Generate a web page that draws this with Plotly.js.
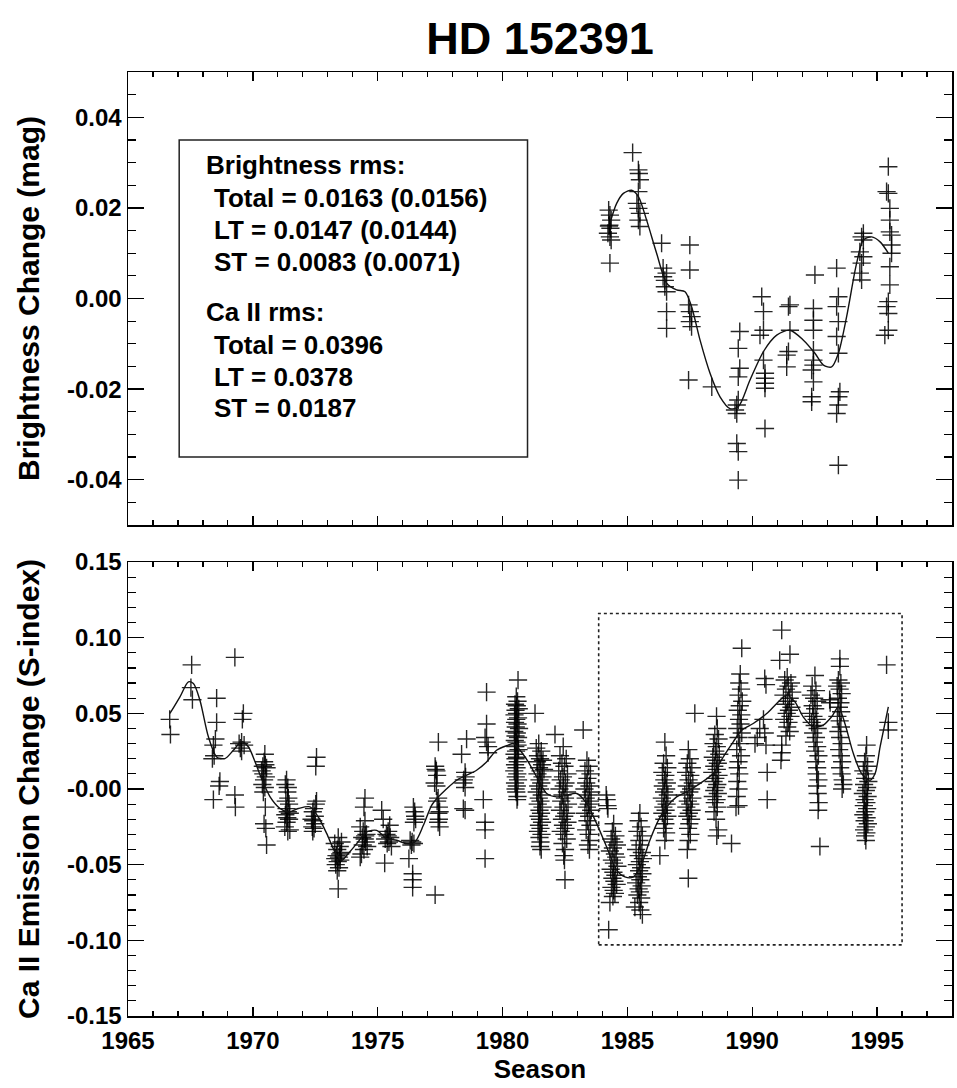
<!DOCTYPE html>
<html>
<head>
<meta charset="utf-8">
<script src="https://cdn.plot.ly/plotly-3.0.1.min.js"></script>
<style>html,body{margin:0;padding:0;background:#fff;}#chart{width:957px;height:1088px;}</style>
</head>
<body>
<div id="chart"></div>
<script>
// ---------- Brightness change (top panel), [season, mag] ----------
const bri1984 = [[1984.25,0.0195],[1984.30,0.0184],[1984.35,0.0173],[1984.28,0.0162],[1984.32,0.0155],[1984.22,0.0144],[1984.30,0.0136],[1984.35,0.0129],[1984.30,0.0078],[1984.26,0.0160]];
const bri1985 = [[1985.21,0.0322],[1985.44,0.0284],[1985.46,0.0276],[1985.50,0.0262],[1985.44,0.0236],[1985.38,0.0210],[1985.44,0.0199],[1985.50,0.0188],[1985.44,0.0173],[1985.50,0.0159]];
const bri1986 = [[1986.37,0.0122],[1986.43,0.0067],[1986.57,0.0056],[1986.43,0.0048],[1986.50,0.0026],[1986.57,0.0015],[1986.57,-0.0029],[1986.57,-0.0066],[1986.50,0.0040]];
const bri1987 = [[1987.50,0.0118],[1987.50,0.0063],[1987.45,-0.0014],[1987.50,-0.0029],[1987.57,-0.0040],[1987.50,-0.0051],[1987.57,-0.0062],[1987.45,-0.0180],[1988.38,-0.0195]];
const bri1989 = [[1989.50,-0.0073],[1989.44,-0.0110],[1989.50,-0.0154],[1989.44,-0.0173],[1989.44,-0.0224],[1989.38,-0.0235],[1989.31,-0.0246],[1989.38,-0.0254],[1989.38,-0.0320],[1989.44,-0.0338],[1989.44,-0.0401]];
const bri1990 = [[1990.38,0.0004],[1990.45,-0.0029],[1990.45,-0.0070],[1990.31,-0.0081],[1990.45,-0.0136],[1990.51,-0.0165],[1990.51,-0.0176],[1990.51,-0.0187],[1990.51,-0.0198],[1990.51,-0.0287]];
const bri1991 = [[1991.51,-0.0014],[1991.45,-0.0018],[1991.51,-0.0070],[1991.45,-0.0117],[1991.38,-0.0125],[1991.38,-0.0151]];
const bri1992 = [[1992.51,0.0052],[1992.45,-0.0022],[1992.45,-0.0048],[1992.45,-0.0070],[1992.45,-0.0114],[1992.45,-0.0136],[1992.45,-0.0147],[1992.38,-0.0158],[1992.45,-0.0184],[1992.38,-0.0217],[1992.38,-0.0228]];
const bri1993 = [[1993.38,0.0067],[1993.45,0.0004],[1993.38,-0.0018],[1993.45,-0.0051],[1993.38,-0.0084],[1993.45,-0.0121],[1993.51,-0.0206],[1993.45,-0.0217],[1993.45,-0.0235],[1993.38,-0.0254],[1993.45,-0.0368]];
const bri1994 = [[1994.45,0.0144],[1994.38,0.0136],[1994.45,0.0129],[1994.31,0.0103],[1994.45,0.0092],[1994.38,0.0078],[1994.31,0.0056],[1994.38,0.0041]];
const bri1995 = [[1995.45,0.0291],[1995.38,0.0236],[1995.45,0.0232],[1995.51,0.0199],[1995.51,0.0173],[1995.51,0.0147],[1995.58,0.0140],[1995.58,0.0118],[1995.58,0.0100],[1995.51,0.0070],[1995.51,0.0030],[1995.45,-0.0007],[1995.38,-0.0018],[1995.45,-0.0033],[1995.45,-0.0070],[1995.31,-0.0081]];

// smooth long-term fit of brightness
const briFitYear = [1984.30,1984.57,1984.84,1985.17,1985.44,1985.77,1986.17,1986.57,1986.97,1987.31,1987.57,1987.91,1988.31,1988.71,1989.11,1989.44,1989.91,1990.45,1990.98,1991.51,1992.05,1992.51,1992.85,1993.18,1993.45,1993.78,1994.18,1994.45,1994.78,1995.12,1995.45];
const briFitMag  = [0.0166,0.0210,0.0232,0.0239,0.0225,0.0173,0.0100,0.0034,0.0019,0.0015,-0.0018,-0.0092,-0.0165,-0.0217,-0.0243,-0.0239,-0.0180,-0.0117,-0.0081,-0.0070,-0.0092,-0.0121,-0.0147,-0.0151,-0.0121,-0.0040,0.0078,0.0129,0.0136,0.0125,0.0100];

// ---------- Ca II emission change (bottom panel), [season, S-index] ----------
const ca1966 = [[1966.67,0.046],[1966.70,0.036]];
const ca1967 = [[1967.55,0.082],[1967.52,0.067],[1967.58,0.059]];
const ca1968 = [[1968.55,0.060],[1968.55,0.044],[1968.50,0.033],[1968.42,0.029],[1968.45,0.022],[1968.38,0.020],[1968.68,0.005],[1968.65,0.002],[1968.42,-0.007]];
const ca1969 = [[1969.28,0.087],[1969.62,0.050],[1969.58,0.046],[1969.55,0.031],[1969.65,0.029],[1969.50,0.027],[1969.45,0.030],[1969.55,0.025],[1969.28,-0.004],[1969.30,-0.012]];
const ca1970 = [[1970.48,0.023],[1970.45,0.018],[1970.50,0.016],[1970.40,0.015],[1970.55,0.014],[1970.35,0.012],[1970.42,0.010],[1970.52,0.008],[1970.45,0.006],[1970.38,0.003],[1970.48,0.001],[1970.42,-0.002],[1970.50,-0.012],[1970.45,-0.023],[1970.52,-0.026],[1970.55,-0.037]];
const ca1971 = [[1971.35,0.006],[1971.30,0.003],[1971.40,0.001],[1971.38,-0.002],[1971.42,-0.006],[1971.32,-0.008],[1971.45,-0.010],[1971.35,-0.013],[1971.40,-0.015],[1971.48,-0.016],[1971.30,-0.017],[1971.38,-0.019],[1971.45,-0.020],[1971.35,-0.022],[1971.28,-0.025],[1971.48,-0.027],[1971.40,-0.028]];
const ca1972 = [[1972.55,0.021],[1972.52,0.015],[1972.55,-0.008],[1972.52,-0.010],[1972.45,-0.013],[1972.40,-0.015],[1972.48,-0.018],[1972.35,-0.020],[1972.42,-0.021],[1972.50,-0.023],[1972.38,-0.025],[1972.45,-0.026],[1972.40,-0.028]];
const ca1973 = [[1973.42,-0.032],[1973.55,-0.035],[1973.28,-0.036],[1973.48,-0.038],[1973.38,-0.040],[1973.55,-0.042],[1973.35,-0.044],[1973.45,-0.045],[1973.50,-0.047],[1973.40,-0.048],[1973.32,-0.050],[1973.45,-0.052],[1973.38,-0.054],[1973.42,-0.066],[1973.50,-0.043],[1973.30,-0.046]];
const ca1974 = [[1974.49,-0.006],[1974.45,-0.012],[1974.49,-0.021],[1974.30,-0.025],[1974.42,-0.028],[1974.55,-0.030],[1974.38,-0.032],[1974.48,-0.033],[1974.52,-0.035],[1974.40,-0.037],[1974.58,-0.038],[1974.45,-0.040],[1974.35,-0.043],[1974.30,-0.045],[1974.50,-0.031]];
const ca1975 = [[1975.16,-0.014],[1975.22,-0.020],[1975.48,-0.024],[1975.42,-0.028],[1975.35,-0.030],[1975.50,-0.032],[1975.30,-0.033],[1975.45,-0.035],[1975.38,-0.036],[1975.55,-0.038],[1975.28,-0.049],[1975.40,-0.031]];
const ca1976 = [[1976.43,-0.012],[1976.48,-0.015],[1976.50,-0.018],[1976.45,-0.022],[1976.30,-0.034],[1976.38,-0.035],[1976.45,-0.036],[1976.35,-0.037],[1976.25,-0.046],[1976.40,-0.056],[1976.40,-0.060],[1976.40,-0.065],[1976.52,-0.020]];
const ca1977 = [[1977.43,0.031],[1977.30,0.015],[1977.35,0.012],[1977.38,0.009],[1977.28,0.004],[1977.35,0.002],[1977.42,-0.006],[1977.38,-0.008],[1977.45,-0.012],[1977.48,-0.015],[1977.43,-0.016],[1977.45,-0.020],[1977.42,-0.022],[1977.48,-0.025],[1977.30,-0.070],[1977.32,0.013]];
const ca1978 = [[1978.56,0.033],[1978.36,0.023],[1978.50,0.011],[1978.45,0.006],[1978.43,0.004],[1978.50,0.001],[1978.43,-0.013],[1978.50,-0.014],[1978.52,0.008]];
const ca1979 = [[1979.36,0.064],[1979.36,0.043],[1979.30,0.034],[1979.36,0.031],[1979.42,0.028],[1979.42,0.024],[1979.23,-0.007],[1979.30,-0.022],[1979.30,-0.027],[1979.30,-0.046]];
const ca1980 = [[1980.62,0.072],[1980.55,0.061],[1980.60,0.058],[1980.50,0.056],[1980.57,0.055],[1980.65,0.053],[1980.52,0.052],[1980.58,0.050],[1980.48,0.049],[1980.62,0.047],[1980.55,0.046],[1980.50,0.044],[1980.60,0.043],[1980.53,0.041],[1980.66,0.040],[1980.47,0.038],[1980.57,0.037],[1980.52,0.035],[1980.62,0.034],[1980.49,0.032],[1980.56,0.031],[1980.60,0.029],[1980.51,0.028],[1980.64,0.026],[1980.54,0.025],[1980.48,0.023],[1980.58,0.021],[1980.52,0.020],[1980.61,0.018],[1980.50,0.016],[1980.56,0.014],[1980.47,0.012],[1980.59,0.010],[1980.53,0.008],[1980.62,0.006],[1980.50,0.004],[1980.57,0.002],[1980.52,0.000],[1980.55,-0.002],[1980.60,-0.005],[1980.58,-0.007]];
const ca1981 = [[1981.30,0.050],[1981.45,0.030],[1981.35,0.027],[1981.55,0.025],[1981.42,0.022],[1981.50,0.020],[1981.38,0.018],[1981.58,0.016],[1981.46,0.014],[1981.52,0.012],[1981.40,0.010],[1981.60,0.008],[1981.48,0.006],[1981.55,0.004],[1981.43,0.002],[1981.50,0.000],[1981.37,-0.002],[1981.57,-0.004],[1981.45,-0.006],[1981.52,-0.008],[1981.41,-0.010],[1981.60,-0.012],[1981.48,-0.014],[1981.54,-0.016],[1981.44,-0.018],[1981.50,-0.020],[1981.58,-0.022],[1981.46,-0.024],[1981.52,-0.026],[1981.42,-0.028],[1981.56,-0.030],[1981.48,-0.032],[1981.52,-0.035],[1981.50,-0.038],[1981.55,-0.040],[1981.62,0.019],[1981.66,0.013]];
const ca1982 = [[1982.10,0.036],[1982.43,0.028],[1982.30,0.022],[1982.55,0.020],[1982.38,0.017],[1982.48,0.015],[1982.25,0.012],[1982.60,0.010],[1982.42,0.008],[1982.33,0.006],[1982.52,0.004],[1982.45,0.002],[1982.28,0.000],[1982.58,-0.002],[1982.40,-0.004],[1982.50,-0.006],[1982.35,-0.008],[1982.62,-0.010],[1982.44,-0.012],[1982.30,-0.014],[1982.55,-0.016],[1982.47,-0.018],[1982.38,-0.020],[1982.60,-0.022],[1982.42,-0.024],[1982.52,-0.026],[1982.33,-0.028],[1982.48,-0.030],[1982.57,-0.033],[1982.40,-0.036],[1982.50,-0.040],[1982.45,-0.044],[1982.48,-0.047],[1982.50,-0.060]];
const ca1983 = [[1983.23,0.039],[1983.38,0.019],[1983.45,0.015],[1983.30,0.012],[1983.52,0.010],[1983.40,0.007],[1983.35,0.004],[1983.48,0.002],[1983.28,0.000],[1983.55,-0.002],[1983.42,-0.004],[1983.33,-0.006],[1983.50,-0.008],[1983.45,-0.010],[1983.38,-0.012],[1983.55,-0.014],[1983.30,-0.016],[1983.47,-0.018],[1983.40,-0.021],[1983.52,-0.024],[1983.35,-0.027],[1983.45,-0.030],[1983.50,-0.034],[1983.42,-0.037],[1983.48,-0.040]];
const ca1984 = [[1984.15,-0.004],[1984.17,-0.007],[1984.20,-0.011],[1984.22,-0.013],[1984.45,-0.023],[1984.40,-0.028],[1984.52,-0.031],[1984.35,-0.033],[1984.47,-0.035],[1984.58,-0.037],[1984.42,-0.039],[1984.30,-0.041],[1984.50,-0.043],[1984.55,-0.045],[1984.38,-0.047],[1984.46,-0.049],[1984.60,-0.051],[1984.33,-0.053],[1984.44,-0.055],[1984.52,-0.057],[1984.40,-0.059],[1984.48,-0.061],[1984.57,-0.063],[1984.36,-0.065],[1984.45,-0.067],[1984.50,-0.069],[1984.42,-0.071],[1984.30,-0.075],[1984.25,-0.093]];
const ca1985 = [[1985.50,-0.016],[1985.45,-0.021],[1985.55,-0.025],[1985.40,-0.028],[1985.60,-0.031],[1985.48,-0.034],[1985.52,-0.037],[1985.35,-0.040],[1985.58,-0.042],[1985.45,-0.044],[1985.62,-0.046],[1985.50,-0.048],[1985.38,-0.050],[1985.55,-0.052],[1985.47,-0.054],[1985.60,-0.056],[1985.42,-0.058],[1985.52,-0.060],[1985.35,-0.062],[1985.57,-0.064],[1985.45,-0.066],[1985.50,-0.068],[1985.40,-0.070],[1985.55,-0.072],[1985.47,-0.075],[1985.30,-0.078],[1985.52,-0.080],[1985.60,-0.083]];
const ca1986 = [[1986.50,0.031],[1986.55,0.022],[1986.45,0.017],[1986.60,0.014],[1986.40,0.011],[1986.52,0.009],[1986.48,0.006],[1986.58,0.004],[1986.42,0.002],[1986.55,0.000],[1986.47,-0.002],[1986.62,-0.004],[1986.38,-0.006],[1986.50,-0.008],[1986.57,-0.010],[1986.44,-0.012],[1986.53,-0.014],[1986.40,-0.016],[1986.60,-0.018],[1986.48,-0.020],[1986.52,-0.023],[1986.45,-0.026],[1986.55,-0.029],[1986.50,-0.034],[1986.30,-0.044]];
const ca1987 = [[1987.70,0.050],[1987.44,0.026],[1987.50,0.020],[1987.40,0.017],[1987.58,0.014],[1987.35,0.011],[1987.52,0.009],[1987.45,0.006],[1987.62,0.004],[1987.38,0.002],[1987.55,0.000],[1987.48,-0.002],[1987.30,-0.004],[1987.60,-0.006],[1987.42,-0.008],[1987.52,-0.010],[1987.36,-0.012],[1987.57,-0.014],[1987.46,-0.016],[1987.40,-0.018],[1987.55,-0.020],[1987.48,-0.023],[1987.43,-0.026],[1987.52,-0.030],[1987.45,-0.034],[1987.40,-0.040],[1987.44,-0.059]];
const ca1988 = [[1988.57,0.048],[1988.60,0.040],[1988.50,0.036],[1988.65,0.033],[1988.45,0.030],[1988.58,0.028],[1988.52,0.025],[1988.68,0.023],[1988.42,0.021],[1988.55,0.019],[1988.62,0.017],[1988.48,0.015],[1988.58,0.013],[1988.40,0.011],[1988.65,0.009],[1988.52,0.007],[1988.45,0.005],[1988.60,0.003],[1988.55,0.001],[1988.48,-0.001],[1988.62,-0.003],[1988.42,-0.005],[1988.57,-0.007],[1988.50,-0.009],[1988.60,-0.012],[1988.47,-0.015],[1988.55,-0.020],[1988.64,-0.027],[1988.58,-0.031],[1989.17,-0.036]];
const ca1989 = [[1989.58,0.093],[1989.52,0.076],[1989.48,0.070],[1989.55,0.066],[1989.45,0.062],[1989.60,0.058],[1989.50,0.055],[1989.42,0.052],[1989.56,0.049],[1989.47,0.046],[1989.53,0.043],[1989.40,0.040],[1989.58,0.037],[1989.45,0.034],[1989.50,0.030],[1989.38,0.026],[1989.55,0.022],[1989.45,0.018],[1989.42,0.014],[1989.48,0.010],[1989.40,0.005],[1989.45,0.000],[1989.38,-0.005],[1989.45,-0.011],[1989.35,-0.012]];
const ca1990 = [[1990.11,0.030],[1990.30,0.040],[1990.45,0.046],[1990.50,0.073],[1990.55,0.069],[1990.50,0.037],[1990.55,0.029],[1990.60,0.011],[1990.60,-0.007],[1990.20,0.034]];
const ca1991 = [[1991.18,0.105],[1991.10,0.085],[1991.51,0.089],[1991.40,0.074],[1991.30,0.072],[1991.55,0.070],[1991.45,0.068],[1991.35,0.066],[1991.60,0.064],[1991.25,0.062],[1991.50,0.060],[1991.42,0.058],[1991.33,0.056],[1991.57,0.054],[1991.47,0.052],[1991.38,0.050],[1991.53,0.048],[1991.28,0.046],[1991.45,0.044],[1991.40,0.041],[1991.50,0.038],[1991.35,0.035],[1991.18,0.029],[1991.18,0.024],[1991.15,0.019]];
const ca1992 = [[1992.51,0.075],[1992.40,0.068],[1992.55,0.065],[1992.35,0.062],[1992.48,0.060],[1992.60,0.058],[1992.42,0.055],[1992.52,0.053],[1992.30,0.050],[1992.45,0.048],[1992.58,0.046],[1992.38,0.044],[1992.50,0.042],[1992.62,0.040],[1992.44,0.037],[1992.55,0.034],[1992.47,0.031],[1992.60,0.028],[1992.52,0.025],[1992.65,0.022],[1992.55,0.018],[1992.60,0.014],[1992.58,0.010],[1992.65,0.006],[1992.60,0.002],[1992.62,-0.003],[1992.66,-0.009],[1992.64,-0.014],[1992.71,-0.038],[1993.10,0.059],[1993.12,0.057]];
const ca1993 = [[1993.51,0.086],[1993.51,0.081],[1993.45,0.072],[1993.55,0.070],[1993.40,0.068],[1993.50,0.066],[1993.58,0.063],[1993.43,0.060],[1993.53,0.057],[1993.47,0.054],[1993.56,0.051],[1993.41,0.048],[1993.50,0.045],[1993.55,0.041],[1993.45,0.038],[1993.52,0.034],[1993.58,0.030],[1993.48,0.026],[1993.55,0.022],[1993.60,0.018],[1993.52,0.014],[1993.58,0.010],[1993.62,0.006],[1993.65,0.003],[1993.60,0.000]];
const ca1994 = [[1994.58,0.029],[1994.55,0.022],[1994.50,0.018],[1994.62,0.015],[1994.45,0.012],[1994.57,0.010],[1994.52,0.007],[1994.65,0.005],[1994.48,0.003],[1994.60,0.001],[1994.55,-0.001],[1994.43,-0.003],[1994.62,-0.005],[1994.50,-0.007],[1994.57,-0.009],[1994.47,-0.011],[1994.60,-0.013],[1994.53,-0.015],[1994.45,-0.017],[1994.58,-0.019],[1994.50,-0.021],[1994.63,-0.023],[1994.55,-0.025],[1994.48,-0.027],[1994.57,-0.029],[1994.52,-0.031],[1994.55,-0.034]];
const ca1995 = [[1995.38,0.082],[1995.45,0.044],[1995.45,0.039]];

// smooth long-term fit of Ca II
const caFitYear = [1966.68,1967.08,1967.42,1967.62,1967.88,1968.22,1968.55,1968.88,1969.22,1969.55,1969.82,1970.09,1970.35,1970.69,1971.09,1971.42,1971.82,1972.29,1972.62,1972.96,1973.29,1973.56,1973.82,1974.16,1974.56,1974.96,1975.36,1975.76,1976.16,1976.49,1976.83,1977.16,1977.43,1977.70,1978.16,1978.56,1978.96,1979.36,1979.76,1980.23,1980.43,1980.70,1981.03,1981.37,1981.77,1982.17,1982.57,1982.97,1983.37,1983.77,1984.17,1984.57,1984.90,1985.24,1985.57,1985.90,1986.24,1986.57,1986.97,1987.37,1987.90,1988.44,1988.84,1989.24,1989.58,1990.04,1990.58,1990.98,1991.38,1991.71,1992.04,1992.44,1992.84,1993.18,1993.45,1993.71,1994.05,1994.38,1994.72,1994.92,1995.12,1995.45];
const caFitS    = [0.0499,0.0609,0.0708,0.0697,0.0587,0.0345,0.0212,0.0201,0.0256,0.0312,0.0279,0.0179,0.0069,-0.0052,-0.0129,-0.0152,-0.0129,-0.0118,-0.0185,-0.0295,-0.0416,-0.0471,-0.0427,-0.0361,-0.0284,-0.0273,-0.0328,-0.0339,-0.0361,-0.0350,-0.0240,-0.0108,-0.0052,-0.0008,0.0058,0.0091,0.0124,0.0179,0.0256,0.0290,0.0301,0.0256,0.0179,0.0080,-0.0030,-0.0052,-0.0041,-0.0030,-0.0096,-0.0229,-0.0383,-0.0536,-0.0581,-0.0581,-0.0493,-0.0339,-0.0207,-0.0119,-0.0052,-0.0019,0.0036,0.0102,0.0213,0.0312,0.0389,0.0433,0.0499,0.0565,0.0620,0.0576,0.0477,0.0411,0.0422,0.0477,0.0543,0.0433,0.0234,0.0102,0.0058,0.0102,0.0279,0.0543];

// ---------- tick labels and text ----------
const xTickVals = [1965,1970,1975,1980,1985,1990,1995];
const xTickText = ["1965","1970","1975","1980","1985","1990","1995"];
const yTopTickVals = [-0.04,-0.02,0.00,0.02,0.04];
const yTopTickText = ["-0.04","-0.02","0.00","0.02","0.04"];
const yBotTickVals = [-0.15,-0.10,-0.05,0.00,0.05,0.10,0.15];
const yBotTickText = ["-0.15","-0.10","-0.05","-0.00","0.05","0.10","0.15"];
const rmsLines = ["Brightness rms:","Total = 0.0163 (0.0156)","LT = 0.0147 (0.0144)","ST = 0.0083 (0.0071)","Ca II rms:","Total = 0.0396","LT = 0.0378","ST = 0.0187"];

// ---------- build ----------
const briSeasons = [bri1984,bri1985,bri1986,bri1987,bri1989,bri1990,bri1991,bri1992,bri1993,bri1994,bri1995];
const caSeasons = [ca1966,ca1967,ca1968,ca1969,ca1970,ca1971,ca1972,ca1973,ca1974,ca1975,ca1976,ca1977,ca1978,ca1979,ca1980,ca1981,ca1982,ca1983,ca1984,ca1985,ca1986,ca1987,ca1988,ca1989,ca1990,ca1991,ca1992,ca1993,ca1994,ca1995];
const briPts = [].concat(...briSeasons);
const caPts = [].concat(...caSeasons);

const FONT = 'Liberation Sans, Arial, Helvetica, sans-serif';
const markerStyle = {symbol:'cross-thin', size:13, color:'rgba(0,0,0,0.85)', line:{width:1.4, color:'rgba(0,0,0,0.85)'}};

const traces = [
  {type:'scatter', mode:'markers', x:briPts.map(p=>p[0]), y:briPts.map(p=>p[1]), xaxis:'x', yaxis:'y', marker:markerStyle, hoverinfo:'x+y'},
  {type:'scatter', mode:'lines', x:briFitYear, y:briFitMag, xaxis:'x', yaxis:'y', line:{color:'#111', width:1.4, shape:'spline', smoothing:0.8}},
  {type:'scatter', mode:'markers', x:caPts.map(p=>p[0]), y:caPts.map(p=>p[1]), xaxis:'x2', yaxis:'y2', marker:markerStyle, hoverinfo:'x+y'},
  {type:'scatter', mode:'lines', x:caFitYear, y:caFitS, xaxis:'x2', yaxis:'y2', line:{color:'#111', width:1.4, shape:'spline', smoothing:0.8}}
];

const xBase = {
  range:[1965,1998], showgrid:false, zeroline:false,
  showline:true, linecolor:'#000', linewidth:1.5, mirror:'ticks',
  ticks:'inside', ticklen:9, tickwidth:1.3, tickcolor:'#000',
  tickvals:xTickVals, ticktext:xTickText,
  minor:{ticks:'inside', ticklen:5, tickwidth:1.2, tickcolor:'#000', dtick:1, tick0:1965, showgrid:false},
  tickfont:{family:FONT, size:24, color:'#000', weight:'bold'}
};
const yBase = {
  showgrid:false, zeroline:false,
  showline:true, linecolor:'#000', linewidth:1.5, mirror:'ticks',
  ticks:'inside', ticklen:16, tickwidth:1.3, tickcolor:'#000',
  tickfont:{family:FONT, size:24, color:'#000', weight:'bold'}
};

const layout = {
  width:957, height:1088,
  paper_bgcolor:'#fff', plot_bgcolor:'#fff',
  showlegend:false,
  margin:{l:128, r:5, t:72, b:72},
  font:{family:FONT, color:'#000'},
  title:{text:'HD 152391', font:{family:FONT, size:45, color:'#000', weight:'bold'}, x:0.5, xref:'paper', y:1-38/1088, yref:'container', yanchor:'middle'},
  xaxis:Object.assign({}, xBase, {anchor:'y', showticklabels:false}),
  xaxis2:Object.assign({}, xBase, {anchor:'y2', showticklabels:true, ticklabelstandoff:3,
    title:{text:'Season', font:{family:FONT, size:26, color:'#000', weight:'bold'}, standoff:4}}),
  yaxis:Object.assign({}, yBase, {domain:[(1016-525)/944, 1], range:[-0.05,0.05],
    tickvals:yTopTickVals, ticktext:yTopTickText,
    minor:{ticks:'inside', ticklen:8, tickwidth:1.2, tickcolor:'#000', dtick:0.005, tick0:0, showgrid:false},
    title:{text:'Brightness Change (mag)', font:{family:FONT, size:30, color:'#000', weight:'bold'}, standoff:18}}),
  yaxis2:Object.assign({}, yBase, {domain:[0, (1016-562)/944], range:[-0.15,0.15],
    tickvals:yBotTickVals, ticktext:yBotTickText,
    minor:{ticks:'inside', ticklen:8, tickwidth:1.2, tickcolor:'#000', dtick:0.01, tick0:0, showgrid:false},
    title:{text:'Ca II Emission Change (S-index)', font:{family:FONT, size:30, color:'#000', weight:'bold'}, standoff:18}}),
  shapes:[
    {type:'rect', xref:'x', yref:'y', x0:1967.05, x1:1981.0, y0:-0.035, y1:0.035, line:{color:'#222', width:1.5}, fillcolor:'rgba(0,0,0,0)'},
    {type:'rect', xref:'x2', yref:'y2', x0:1983.85, x1:1996.0, y0:-0.103, y1:0.116, line:{color:'#222', width:1.6, dash:'dot'}, fillcolor:'rgba(0,0,0,0)'}
  ],
  annotations: rmsLines.map((t,i) => ({
    text:t, xref:'x', yref:'y', showarrow:false, xanchor:'left', yanchor:'middle',
    x:[1968.05,1968.35,1968.35,1968.35,1968.05,1968.35,1968.35,1968.35][i],
    y:[0.0295,0.0222,0.0151,0.0081,-0.0030,-0.0103,-0.0173,-0.0242][i],
    font:{family:FONT, size:26, color:'#000', weight:'bold'}
  }))
};

Plotly.newPlot('chart', traces, layout, {displayModeBar:false, staticPlot:true});
</script>
</body>
</html>
